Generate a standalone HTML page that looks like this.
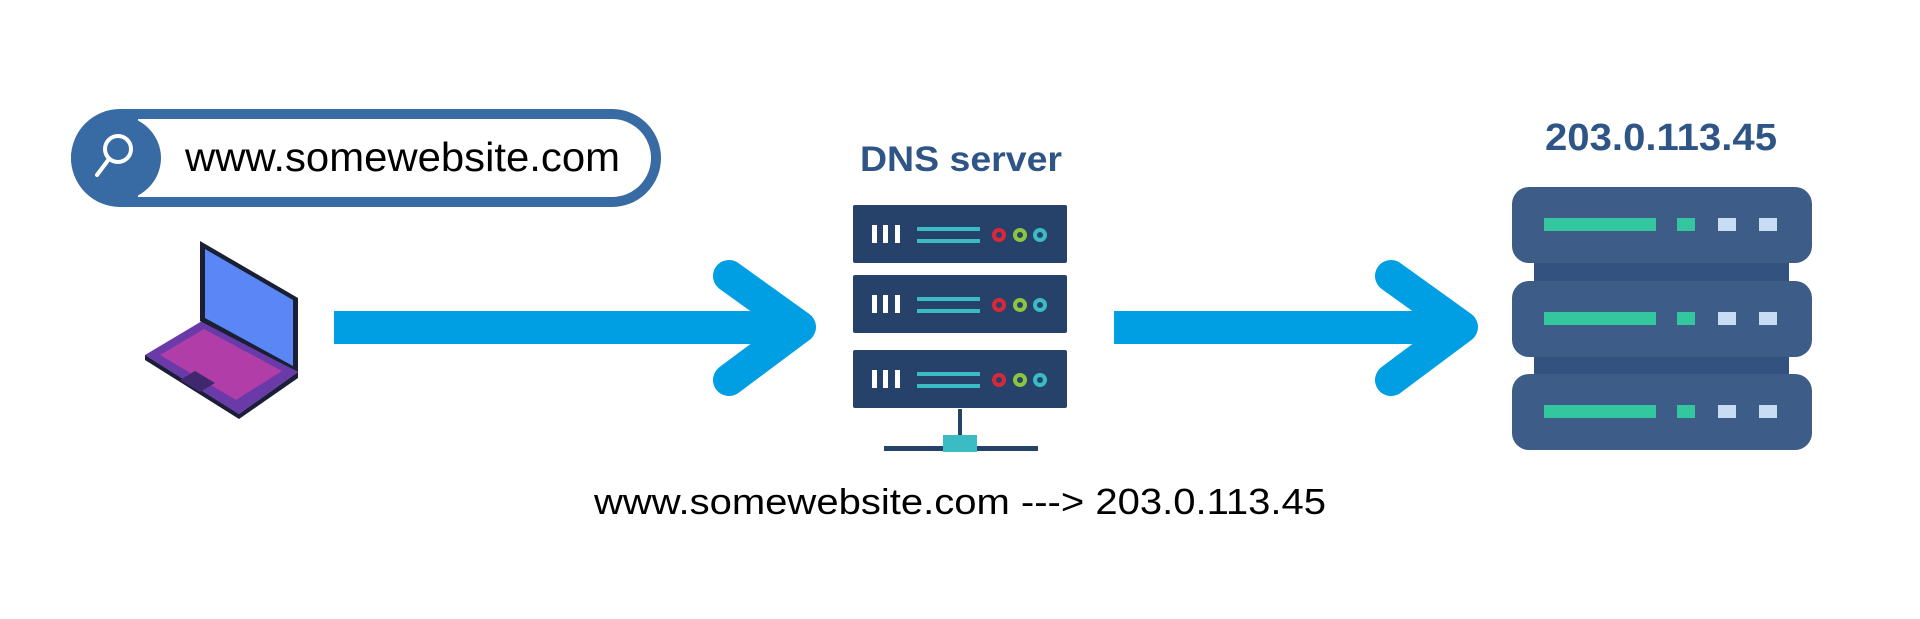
<!DOCTYPE html>
<html><head><meta charset="utf-8"><style>html,body{margin:0;padding:0;background:#fff}svg{display:block}</style></head>
<body>
<svg width="1920" height="619" viewBox="0 0 1920 619" xmlns="http://www.w3.org/2000/svg" font-family="Liberation Sans, sans-serif">
<rect width="1920" height="619" fill="#fff"/>
<!-- search bar -->
<rect x="76" y="114" width="580" height="88" rx="44" fill="#fff" stroke="#386aa3" stroke-width="10"/>
<ellipse cx="116" cy="158" rx="45" ry="43" fill="#386aa3"/>
<path d="M116 112 A48 46 0 0 1 138 116 L138 200 A48 46 0 0 1 116 204 Z" fill="#386aa3"/>
<circle cx="118" cy="149" r="13" fill="none" stroke="#fff" stroke-width="4"/>
<line x1="109" y1="159" x2="97" y2="175" stroke="#fff" stroke-width="4" stroke-linecap="round"/>
<text x="185" y="171" font-size="41" fill="#000" textLength="435" lengthAdjust="spacingAndGlyphs">www.somewebsite.com</text>
<!-- laptop -->
<polygon points="145,355 202,321 298,372 239,414" fill="#6a3aa8"/>
<polygon points="145,355 239,414 239,419 145,360" fill="#1b1d3a"/>
<polygon points="239,414 298,372 298,378 239,419" fill="#1b1d3a"/>
<polygon points="160,355 204,329 282,371 236,400" fill="#c23ea8" opacity="0.8"/>
<polygon points="180,380 195,371 215,383 200,392" fill="#40286e"/>
<polygon points="200,241 298,298 298,372 200,321" fill="#1a1f36"/>
<polygon points="205,249 293,300 293,366 205,318" fill="#5a86f6"/>
<!-- arrows -->
<rect x="334" y="311" width="455" height="33" fill="#009fe3"/>
<polyline points="729,276 800,327 729,380" fill="none" stroke="#009fe3" stroke-width="32" stroke-linecap="round" stroke-linejoin="round"/>
<rect x="1114" y="311" width="337" height="33" fill="#009fe3"/>
<polyline points="1391,276 1462,327 1391,380" fill="none" stroke="#009fe3" stroke-width="32" stroke-linecap="round" stroke-linejoin="round"/>
<!-- DNS server -->
<text x="860" y="171" font-size="35" font-weight="bold" fill="#2f5586" textLength="202" lengthAdjust="spacingAndGlyphs">DNS server</text>
<g id="u">
<rect x="853" y="205" width="214" height="58" rx="2" fill="#27426a"/>
<rect x="872" y="225" width="5" height="18" fill="#fff"/><rect x="883" y="225" width="5" height="18" fill="#fff"/><rect x="895" y="225" width="5" height="18" fill="#fff"/>
<rect x="917" y="227" width="63" height="4" fill="#3bbcc4"/><rect x="917" y="239" width="63" height="4" fill="#3bbcc4"/>
<circle cx="999" cy="235" r="5" fill="none" stroke="#d8283a" stroke-width="4"/>
<circle cx="1020" cy="235" r="5" fill="none" stroke="#8cc63f" stroke-width="4"/>
<circle cx="1040" cy="235" r="5" fill="none" stroke="#3bbcc4" stroke-width="4"/>
</g>
<use href="#u" y="70"/>
<use href="#u" y="145"/>
<rect x="958" y="409" width="4" height="28" fill="#27426a"/>
<rect x="884" y="446" width="154" height="5" fill="#27426a"/>
<rect x="943" y="435" width="34" height="17" fill="#3bbcc4"/>
<!-- right server -->
<text x="1545" y="150" font-size="38" font-weight="bold" fill="#2f5586" textLength="232" lengthAdjust="spacingAndGlyphs">203.0.113.45</text>
<rect x="1534" y="255" width="255" height="130" fill="#33527f"/>
<g id="r">
<rect x="1512" y="187" width="300" height="76" rx="17" fill="#3d5c87"/>
<rect x="1544" y="218" width="112" height="13" fill="#33c69f"/>
<rect x="1677" y="218" width="18" height="13" fill="#33c69f"/>
<rect x="1718" y="218" width="18" height="13" fill="#c8dcf4"/>
<rect x="1759" y="218" width="18" height="13" fill="#c8dcf4"/>
</g>
<use href="#r" y="94"/>
<use href="#r" y="187"/>
<!-- bottom label -->
<text x="594" y="514" font-size="36" fill="#000" textLength="732" lengthAdjust="spacingAndGlyphs">www.somewebsite.com ---&gt; 203.0.113.45</text>
</svg>
</body></html>
